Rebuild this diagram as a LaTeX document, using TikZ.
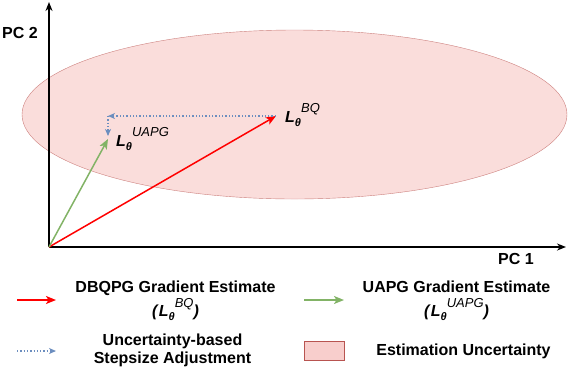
\documentclass[tikz,border=0pt]{standalone}
\usepackage{fontspec}
\setmainfont{Liberation Sans}
\usetikzlibrary{arrows.meta,shapes.geometric}
\definecolor{ellfill}{HTML}{F8CECC}
\definecolor{ellline}{HTML}{B85450}
\definecolor{gr}{HTML}{82B366}
\definecolor{bl}{HTML}{6C8EBF}
\newcommand\Lth[1]{\textbf{\textit{L}}\raisebox{-0.5ex}{\fontsize{11}{11}\selectfont\bfseries\itshape θ}\raisebox{1.1ex}{\fontsize{13}{13}\selectfont\mdseries\itshape #1}}
\tikzset{
  lbl/.style={inner sep=0pt, font=\fontsize{16}{18}\selectfont\bfseries},
  leg/.style={inner sep=0pt, align=center, font=\fontsize{16}{24}\selectfont\bfseries},
  axis/.style={line width=1.6pt, -{Stealth[length=9pt,width=7pt]}},
  redarr/.style={red, line width=1.5pt, -{Stealth[length=10pt,width=8pt,inset=2.5pt]}},
  grarr/.style={gr, line width=1.5pt, -{Stealth[length=10pt,width=8pt,inset=2.5pt]}},
  blarr/.style={bl, line width=1.3pt, dotted, -{Stealth[length=7pt,width=6pt,inset=2pt,sep=0pt]}},
}
\begin{document}
\begin{tikzpicture}[x=1pt,y=-1pt]
\useasboundingbox (0,0) rectangle (568,368);
% uncertainty ellipse
\node[draw=ellline, draw opacity=0.7, fill=ellfill, fill opacity=0.7, ellipse, minimum width=545pt, minimum height=169pt, inner sep=0pt] (ell) at (294.5,114.5) {};
% axes
\coordinate (O) at (49,247);
\coordinate (ytop) at (49,2);
\coordinate (xend) at (566,247);
\draw[axis] (O) -- (ytop);
\draw[axis] (O) -- (xend);
\node[lbl, anchor=east] (pc2) at (38,33) {PC 2};
\node[lbl, anchor=west] (pc1) at (498,259) {PC 1};
% vectors
\coordinate (bq) at (276,116);
\coordinate (uapg) at (108,139);
\coordinate (corner) at (108,116);
\draw[redarr] (O) -- (bq);
\draw[grarr] (O) -- (uapg);
\draw[blarr] (bq) -- (corner);
\draw[blarr] (corner) -- (108,136);
\node[lbl, anchor=base west] (lbq) at (285,122) {\Lth{BQ}};
\node[lbl, anchor=base west] (luapg) at (116,146) {\Lth{UAPG}};
% legend
\coordinate (r1) at (17,300); \coordinate (r2) at (56,300);
\draw[redarr] (r1) -- (r2);
\node[leg] (t1) at (175.5,301) {DBQPG Gradient Estimate\\\textit{(}\Lth{BQ}\textit{)}};
\coordinate (g1) at (304,300); \coordinate (g2) at (344,300);
\draw[grarr] (g1) -- (g2);
\node[leg] (t2) at (456.5,301) {UAPG Gradient Estimate\\\textit{(}\Lth{UAPG}\textit{)}};
\coordinate (b1) at (17,351); \coordinate (b2) at (56,351);
\draw[blarr] (b1) -- (b2);
\node[lbl, align=center] (t3) at (172.5,350) {Uncertainty-based\\Stepsize Adjustment};
\node[draw=ellline, fill=ellfill, minimum width=40pt, minimum height=19pt, inner sep=0pt] (box) at (324,351) {};
\node[lbl] (t4) at (463.5,351) {Estimation Uncertainty};
\end{tikzpicture}
\end{document}
